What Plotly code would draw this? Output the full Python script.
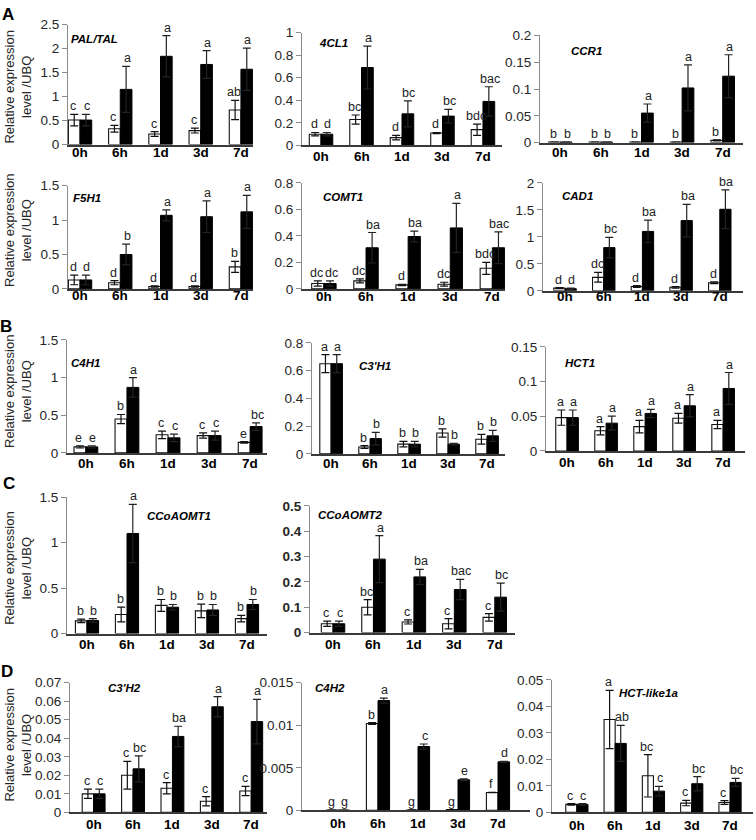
import plotly.graph_objects as go

times = ["0h", "6h", "1d", "3d", "7d"]

# ---------------- data (white = open bars, black = filled bars) ----------------
PAL_w = [0.51, 0.33, 0.22, 0.29, 0.72]
PAL_w_err = [0.12, 0.07, 0.05, 0.05, 0.20]
PAL_b = [0.51, 1.15, 1.84, 1.67, 1.57]
PAL_b_err = [0.12, 0.48, 0.43, 0.29, 0.44]
PAL_w_sig = ["c", "c", "c", "c", "ab"]
PAL_b_sig = ["c", "a", "a", "a", "a"]

CL1_w = [0.10, 0.23, 0.07, 0.11, 0.14]
CL1_w_err = [0.015, 0.04, 0.02, 0.005, 0.05]
CL1_b = [0.10, 0.69, 0.28, 0.26, 0.39]
CL1_b_err = [0.015, 0.19, 0.115, 0.06, 0.13]
CL1_w_sig = ["d", "bc", "d", "d", "bdc"]
CL1_b_sig = ["d", "a", "bc", "bc", "bac"]

CCR1_w = [0.001, 0.001, 0.001, 0.001, 0.004]
CCR1_w_err = [0.0, 0.0, 0.0, 0.0, 0.001]
CCR1_b = [0.001, 0.001, 0.055, 0.102, 0.124]
CCR1_b_err = [0.0, 0.0, 0.017, 0.043, 0.040]
CCR1_w_sig = ["b", "b", "b", "b", "b"]
CCR1_b_sig = ["b", "b", "a", "a", "a"]

F5H1_w = [0.13, 0.09, 0.035, 0.035, 0.32]
F5H1_w_err = [0.07, 0.03, 0.01, 0.01, 0.08]
F5H1_b = [0.13, 0.50, 1.07, 1.05, 1.12]
F5H1_b_err = [0.07, 0.15, 0.08, 0.23, 0.24]
F5H1_w_sig = ["d", "d", "d", "d", "b"]
F5H1_b_sig = ["d", "b", "a", "a", "a"]

COMT1_w = [0.04, 0.06, 0.03, 0.035, 0.155]
COMT1_w_err = [0.02, 0.015, 0.005, 0.015, 0.045]
COMT1_b = [0.04, 0.31, 0.395, 0.46, 0.31]
COMT1_b_err = [0.02, 0.115, 0.04, 0.185, 0.12]
COMT1_w_sig = ["dc", "dc", "d", "dc", "bdc"]
COMT1_b_sig = ["dc", "ba", "ba", "a", "bac"]

CAD1_w = [0.05, 0.25, 0.08, 0.065, 0.15]
CAD1_w_err = [0.01, 0.09, 0.015, 0.015, 0.015]
CAD1_b = [0.04, 0.80, 1.10, 1.30, 1.51]
CAD1_b_err = [0.01, 0.19, 0.21, 0.30, 0.36]
CAD1_w_sig = ["d", "dc", "d", "d", "d"]
CAD1_b_sig = ["d", "bc", "ba", "ba", "ba"]

C4H1_w = [0.08, 0.45, 0.24, 0.23, 0.14]
C4H1_w_err = [0.015, 0.06, 0.05, 0.035, 0.01]
C4H1_b = [0.08, 0.87, 0.20, 0.23, 0.35]
C4H1_b_err = [0.015, 0.13, 0.05, 0.06, 0.05]
C4H1_w_sig = ["e", "b", "c", "c", "e"]
C4H1_b_sig = ["e", "a", "c", "c", "bc"]

C3H1_w = [0.65, 0.05, 0.07, 0.15, 0.105]
C3H1_w_err = [0.065, 0.01, 0.02, 0.03, 0.035]
C3H1_b = [0.65, 0.11, 0.07, 0.07, 0.13]
C3H1_b_err = [0.065, 0.045, 0.02, 0.005, 0.04]
C3H1_w_sig = ["a", "b", "b", "b", "b"]
C3H1_b_sig = ["a", "b", "b", "b", "b"]

HCT1_w = [0.048, 0.029, 0.035, 0.047, 0.038]
HCT1_w_err = [0.011, 0.006, 0.009, 0.007, 0.006]
HCT1_b = [0.048, 0.040, 0.054, 0.065, 0.090]
HCT1_b_err = [0.011, 0.010, 0.006, 0.016, 0.023]
HCT1_w_sig = ["a", "a", "a", "a", "a"]
HCT1_b_sig = ["a", "a", "a", "a", "a"]

CCo1_w = [0.14, 0.21, 0.31, 0.25, 0.165]
CCo1_w_err = [0.02, 0.08, 0.065, 0.075, 0.035]
CCo1_b = [0.145, 1.10, 0.29, 0.26, 0.32]
CCo1_b_err = [0.02, 0.32, 0.03, 0.06, 0.055]
CCo1_w_sig = ["b", "b", "b", "b", "b"]
CCo1_b_sig = ["b", "a", "b", "b", "b"]

CCo2_w = [0.035, 0.10, 0.042, 0.035, 0.06]
CCo2_w_err = [0.01, 0.03, 0.008, 0.02, 0.015]
CCo2_b = [0.035, 0.29, 0.22, 0.17, 0.14]
CCo2_b_err = [0.01, 0.093, 0.03, 0.04, 0.055]
CCo2_w_sig = ["c", "bc", "c", "c", "c"]
CCo2_b_sig = ["c", "a", "ba", "bac", "bc"]

C3H2_w = [0.010, 0.020, 0.013, 0.006, 0.0115]
C3H2_w_err = [0.0025, 0.0075, 0.003, 0.0025, 0.0025]
C3H2_b = [0.010, 0.0235, 0.041, 0.057, 0.049]
C3H2_b_err = [0.0025, 0.007, 0.0055, 0.0055, 0.012]
C3H2_w_sig = ["c", "c", "c", "c", "c"]
C3H2_b_sig = ["c", "bc", "ba", "a", "a"]

C4H2_w = [0.00003, 0.0102, 0.00005, 0.0001, 0.0021]
C4H2_w_err = [0.0, 0.0001, 0.0, 0.0, 0.00003]
C4H2_b = [0.00003, 0.0129, 0.0075, 0.0036, 0.0057]
C4H2_b_err = [0.0, 0.0003, 0.0003, 0.0001, 0.00005]
C4H2_w_sig = ["g", "b", "g", "g", "f"]
C4H2_b_sig = ["g", "a", "c", "e", "d"]

HCTl_w = [0.003, 0.035, 0.0138, 0.0035, 0.0037]
HCTl_w_err = [0.0003, 0.011, 0.008, 0.001, 0.0007]
HCTl_b = [0.003, 0.026, 0.008, 0.0108, 0.0113]
HCTl_b_err = [0.0003, 0.0068, 0.0018, 0.0027, 0.0015]
HCTl_w_sig = ["c", "a", "bc", "c", "c"]
HCTl_b_sig = ["c", "ab", "c", "bc", "bc"]

genes = ["PAL/TAL", "4CL1", "CCR1", "F5H1", "COMT1", "CAD1", "C4H1", "C3'H1",
         "HCT1", "CCoAOMT1", "CCoAOMT2", "C3'H2", "C4H2", "HCT-like1a"]
series = [
    (PAL_w, PAL_w_err, PAL_b, PAL_b_err, PAL_w_sig, PAL_b_sig),
    (CL1_w, CL1_w_err, CL1_b, CL1_b_err, CL1_w_sig, CL1_b_sig),
    (CCR1_w, CCR1_w_err, CCR1_b, CCR1_b_err, CCR1_w_sig, CCR1_b_sig),
    (F5H1_w, F5H1_w_err, F5H1_b, F5H1_b_err, F5H1_w_sig, F5H1_b_sig),
    (COMT1_w, COMT1_w_err, COMT1_b, COMT1_b_err, COMT1_w_sig, COMT1_b_sig),
    (CAD1_w, CAD1_w_err, CAD1_b, CAD1_b_err, CAD1_w_sig, CAD1_b_sig),
    (C4H1_w, C4H1_w_err, C4H1_b, C4H1_b_err, C4H1_w_sig, C4H1_b_sig),
    (C3H1_w, C3H1_w_err, C3H1_b, C3H1_b_err, C3H1_w_sig, C3H1_b_sig),
    (HCT1_w, HCT1_w_err, HCT1_b, HCT1_b_err, HCT1_w_sig, HCT1_b_sig),
    (CCo1_w, CCo1_w_err, CCo1_b, CCo1_b_err, CCo1_w_sig, CCo1_b_sig),
    (CCo2_w, CCo2_w_err, CCo2_b, CCo2_b_err, CCo2_w_sig, CCo2_b_sig),
    (C3H2_w, C3H2_w_err, C3H2_b, C3H2_b_err, C3H2_w_sig, C3H2_b_sig),
    (C4H2_w, C4H2_w_err, C4H2_b, C4H2_b_err, C4H2_w_sig, C4H2_b_sig),
    (HCTl_w, HCTl_w_err, HCTl_b, HCTl_b_err, HCTl_w_sig, HCTl_b_sig),
]
y_max = [2.5, 1, 0.2, 1.5, 0.8, 2, 1.5, 0.8, 0.15, 1.5, 0.5, 0.07, 0.015, 0.05]
y_dtick = [0.5, 0.2, 0.05, 0.5, 0.2, 0.5, 0.5, 0.2, 0.05, 0.5, 0.1, 0.01, 0.005, 0.01]

# ---------------- layout geometry (pixels) ----------------
W, H = 756, 840
# x0, x1, y_top, y_bottom, xrange_lo, xrange_hi, x-label drop (px)
geom = [
    (68, 253, 18, 140, -0.30, 4.30, 8),
    (302, 502, 26, 141, -0.47, 4.47, 11),
    (540, 743, 29, 138, -0.50, 4.50, 10),
    (68, 253, 182, 287, -0.30, 4.30, 7),
    (302, 505, 179, 287, -0.52, 4.30, 8),
    (543, 743, 179, 289, -0.57, 4.60, 6),
    (67, 267, 339, 454, -0.46, 4.41, 11),
    (312, 505, 342, 455, -0.49, 4.46, 10),
    (546, 745, 346, 452, -0.54, 4.56, 12),
    (67, 267, 499, 638, -0.50, 4.50, 11),
    (310, 515, 508, 637, -0.57, 4.50, 12),
    (70, 267, 688, 820, -0.60, 4.40, 12),
    (302, 530, 688, 818, -0.90, 4.80, 13),
    (552, 753, 685, 820, -0.65, 4.60, 13),
]
gene_pos = [(94, 33), (333, 37), (586, 45), (87, 194), (343, 193), (577, 192),
            (85, 362), (375, 366), (580, 362), (179, 518), (350, 517),
            (124, 693), (330, 693), (648, 698)]

FONT = "Arial, Liberation Sans, sans-serif"
BARGAP = 0.42
half = (1 - BARGAP) / 4.0

fig = go.Figure()
annotations = []
layout = {}
xs = list(range(len(times)))

for k, (gene, (w, we, b, be, ws, bs)) in enumerate(zip(genes, series)):
    idx = "" if k == 0 else str(k + 1)
    xa, ya = "x" + idx, "y" + idx
    x0, x1, yt, yb, lo, hi, drop = geom[k]
    fig.add_trace(go.Bar(
        x=xs, y=w, xaxis=xa, yaxis=ya, showlegend=False, hoverinfo="skip",
        marker=dict(color="white", line=dict(color="#111111", width=1.1)),
        error_y=dict(type="data", array=we, visible=True, color="#111111",
                     thickness=1.2, width=4)))
    fig.add_trace(go.Bar(
        x=xs, y=b, xaxis=xa, yaxis=ya, showlegend=False, hoverinfo="skip",
        marker=dict(color="black", line=dict(color="black", width=1)),
        error_y=dict(type="data", array=be, visible=True, color="#222222",
                     thickness=1.2, width=4)))
    bold_ticks = gene == "CCoAOMT2"
    layout["xaxis" + idx] = dict(
        domain=[x0 / W, x1 / W], anchor=ya, range=[lo, hi],
        tickmode="array", tickvals=xs, ticktext=times, showticklabels=False,
        showline=True, linecolor="#3a3a3a", linewidth=1.5,
        ticks="", showgrid=False, zeroline=False, fixedrange=True)
    layout["yaxis" + idx] = dict(
        domain=[1 - yb / H, 1 - yt / H], anchor=xa, range=[0, y_max[k]],
        tick0=0, dtick=y_dtick[k], showline=True, linecolor="#8a8a8a",
        linewidth=1, ticks="outside", ticklen=5, tickcolor="#8a8a8a",
        showgrid=False, zeroline=False, fixedrange=True,
        tickfont=dict(family=FONT, size=13.5, color="#262626",
                      weight="bold" if bold_ticks else "normal"))
    # category labels, placed tight under the axis line
    for i, t in enumerate(times):
        annotations.append(dict(
            x=i, y=0, xref=xa, yref=ya, text="<b>%s</b>" % t,
            showarrow=False, xanchor="center", yanchor="middle", yshift=-drop,
            font=dict(family=FONT, size=13.5, color="black")))
    # significance letters
    for i in xs:
        for val, err, s, off, dx in ((w[i], we[i], ws[i], -half, -1),
                                     (b[i], be[i], bs[i], half, 1)):
            annotations.append(dict(
                x=i + off, y=val + err, xref=xa, yref=ya, text=s,
                showarrow=False, yanchor="bottom", xanchor="center",
                yshift=-1, xshift=dx,
                font=dict(family=FONT, size=12.5, color="#222222")))
    gx, gy = gene_pos[k]
    annotations.append(dict(
        x=gx / W, y=1 - gy / H, xref="paper", yref="paper",
        text="<b><i>%s</i></b>" % gene, showarrow=False,
        xanchor="center", yanchor="middle",
        font=dict(family=FONT, size=11.5, color="black")))

# y-axis titles per row
for yc in [82, 228, 392, 572, 752]:
    annotations.append(dict(
        x=18 / W, y=1 - yc / H, xref="paper", yref="paper",
        text="Relative expression<br>level /UBQ", textangle=-90,
        showarrow=False, xanchor="center", yanchor="middle",
        font=dict(family=FONT, size=13, color="#262626")))

# panel letters
for letter, (lx, ly) in zip("ABCD", [(8, 8), (6, 325), (9, 485), (7, 677)]):
    annotations.append(dict(
        x=lx / W, y=1 - ly / H, xref="paper", yref="paper",
        text="<b>%s</b>" % letter, showarrow=False,
        xanchor="center", yanchor="middle",
        font=dict(family=FONT, size=17, color="black")))

fig.update_layout(
    width=W, height=H, margin=dict(l=0, r=0, t=0, b=0),
    paper_bgcolor="white", plot_bgcolor="white",
    barmode="group", bargap=BARGAP, bargroupgap=0,
    annotations=annotations, **layout)

fig.write_html("out.html", config={"displayModeBar": False},
               post_script="document.body.style.margin='0';document.body.style.overflow='hidden';")
